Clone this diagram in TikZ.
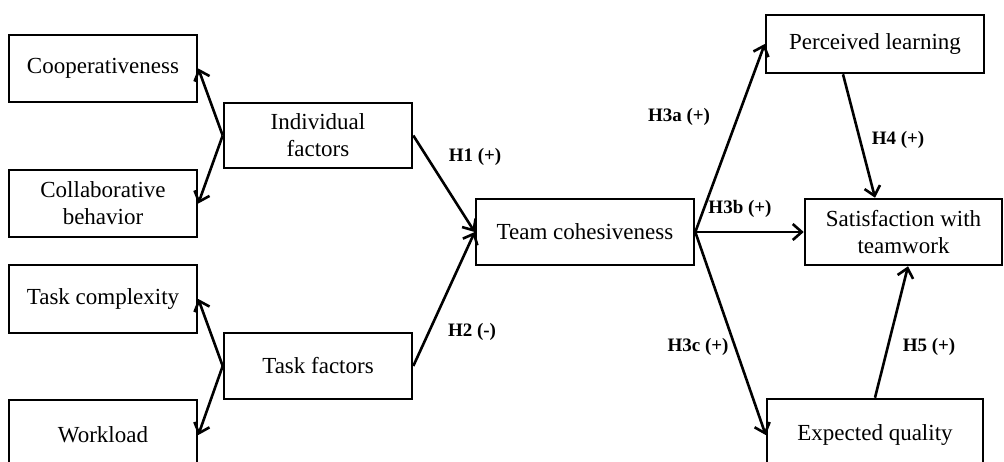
\documentclass[tikz,border=0pt]{standalone}
\usepackage{fontspec}
\setmainfont{Liberation Serif}
\usetikzlibrary{arrows.meta}
\begin{document}
\begin{tikzpicture}[x=0.5pt,y=-0.5pt,
  box/.style={draw, line width=1.3pt, inner sep=0pt, align=center,
    font=\fontsize{11.5}{13.5}\selectfont},
  lab/.style={font=\fontsize{9.5}{11}\selectfont\bfseries, inner sep=0pt},
  arr/.style={line width=1.3pt, -{Straight Barb[length=4.5pt,width=8pt,line width=1.3pt]}}]
\useasboundingbox (0,0) rectangle (1004,461);
% left boxes
\node[box, minimum width=94pt, minimum height=33.5pt] (coop) at (103,68.5) {Cooperativeness};
\node[box, minimum width=94pt, minimum height=33.5pt] (collab) at (103,203.5) {Collaborative\\behavior};
\node[box, minimum width=94pt, minimum height=34pt] (taskc) at (103,299) {Task complexity};
\node[box, minimum width=94pt, minimum height=35pt] (work) at (103,435) {Workload};
% factor boxes
\node[box, minimum width=94pt, minimum height=32.5pt] (indiv) at (318,135.5) {Individual\\factors};
\node[box, minimum width=94pt, minimum height=33pt] (taskf) at (318,366) {Task factors};
% centre
\node[box, minimum width=109pt, minimum height=33pt] (team) at (585,232) {Team cohesiveness};
% right
\node[box, minimum width=109pt, minimum height=29pt] (perc) at (875,44) {Perceived learning};
\node[box, minimum width=98.5pt, minimum height=33pt] (sat) at (903.5,232) {Satisfaction with\\teamwork};
\node[box, minimum width=108pt, minimum height=36pt] (exp) at (875,435) {Expected quality};
% arrows
\draw[arr] (indiv.west) -- (coop.east);
\draw[arr] (indiv.west) -- (collab.east);
\draw[arr] (taskf.west) -- (taskc.east);
\draw[arr] (taskf.west) -- (work.east);
\draw[arr] (indiv.east) -- (team.west);
\draw[arr] (taskf.east) -- (team.west);
\draw[arr] (team.east) -- (perc.west);
\draw[arr] (team.east) -- (sat.west);
\draw[arr] (team.east) -- (exp.west);
\draw[arr] ([xshift=-16pt]perc.south) -- ([xshift=-14.25pt]sat.north);
\draw[arr] (exp.north) -- ([xshift=2.25pt]sat.south);
% labels
\node[lab] (h1) at (475,157) {H1 (+)};
\node[lab] (h2) at (472,332) {H2 (-)};
\node[lab] (h3a) at (679,117) {H3a (+)};
\node[lab] (h3b) at (740,209) {H3b (+)};
\node[lab] (h4) at (898,140) {H4 (+)};
\node[lab] (h3c) at (698,347) {H3c (+)};
\node[lab] (h5) at (929,347) {H5 (+)};
\end{tikzpicture}
\end{document}
